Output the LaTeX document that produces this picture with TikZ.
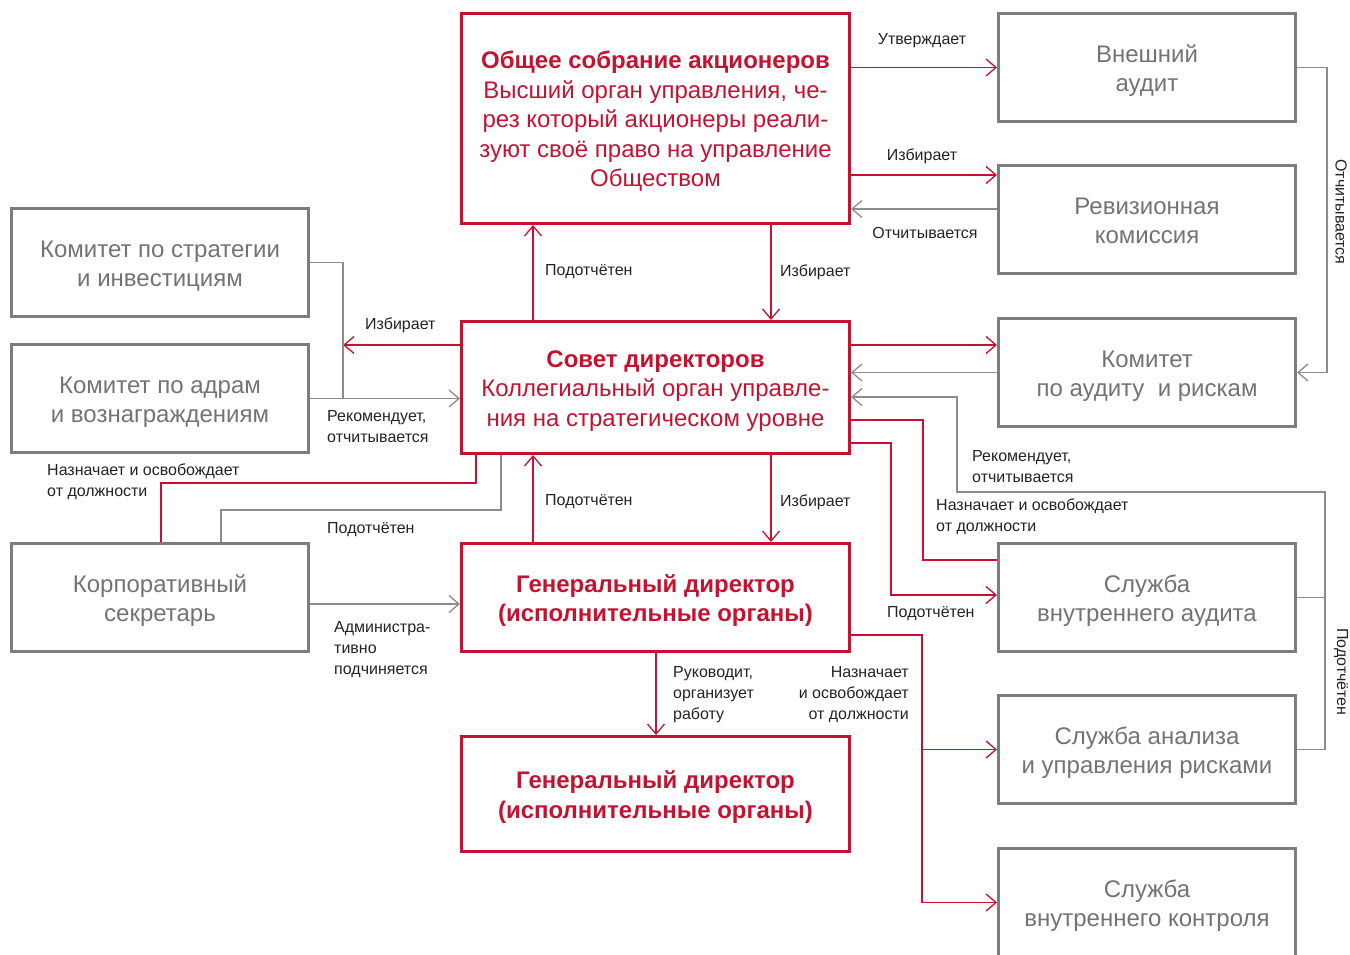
\documentclass[tikz,border=0pt]{standalone}
\usepackage{fontspec}
\setmainfont{Liberation Sans}
\usetikzlibrary{arrows.meta,calc}
\definecolor{rd}{RGB}{196,18,48}
\definecolor{gb}{RGB}{125,125,128}
\definecolor{gt}{RGB}{115,115,118}
\definecolor{lt}{RGB}{35,35,35}
\definecolor{gl}{RGB}{140,140,142}
\newcommand{\bxtxt}[1]{\raisebox{-3.5pt}[\height][\depth]{\begin{tabular}{@{}c@{}}#1\end{tabular}}}
\begin{document}
\begin{tikzpicture}[x=1pt,y=-1pt,
 boxbase/.style={line width=3pt, inner sep=0pt, font=\fontsize{24}{29.5}\selectfont},
 gbox/.style={boxbase, draw=gb, minimum width=297pt, minimum height=108pt, text=gt},
 rbox/.style={boxbase, draw=rd, minimum width=388pt, text=rd},
 rl/.style={draw=rd, line width=1.3pt},
 gline/.style={draw=gl, line width=1.3pt},
 arr/.style={-{Straight Barb[length=10pt,width=17pt,line width=1.3pt]}},
 lbl/.style={text=lt, font=\fontsize{16}{21}\selectfont, inner sep=0pt, align=left},
]
\useasboundingbox (0,0) rectangle (1350,955);
% boxes
\node[rbox, minimum height=210pt] (gsm) at (655.5,118.5) {\bxtxt{\textbf{Общее собрание акционеров}\\Высший орган управления, че-\\рез который акционеры реали-\\зуют своё право на управление\\Обществом}};
\node[rbox, minimum height=132pt] (sd) at (655.5,387.5) {\bxtxt{\textbf{Совет директоров}\\Коллегиальный орган управле-\\ния на стратегическом уровне}};
\node[rbox, minimum height=108pt] (gd1) at (655.5,597.5) {\bxtxt{\textbf{Генеральный директор}\\\textbf{(исполнительные органы)}}};
\node[rbox, minimum height=115pt] (gd2) at (655.5,794) {\bxtxt{\textbf{Генеральный директор}\\\textbf{(исполнительные органы)}}};
\node[gbox] (va) at (1147,67.5) {\bxtxt{Внешний\\аудит}};
\node[gbox] (rk) at (1147,219.5) {\bxtxt{Ревизионная\\комиссия}};
\node[gbox] (ka) at (1147,372.5) {\bxtxt{Комитет\\по аудиту \ и рискам}};
\node[gbox] (sva) at (1147,597.5) {\bxtxt{Служба\\внутреннего аудита}};
\node[gbox] (saur) at (1147,749.5) {\bxtxt{Служба анализа\\и управления рисками}};
\node[gbox] (svk) at (1147,902.5) {\bxtxt{Служба\\внутреннего контроля}};
\node[gbox] (ks) at (160,262.5) {\bxtxt{Комитет по стратегии\\и инвестициям}};
\node[gbox] (kav) at (160,398.5) {\bxtxt{Комитет по адрам\\и вознаграждениям}};
\node[gbox] (ksek) at (160,597.5) {\bxtxt{Корпоративный\\секретарь}};
% connectors top right
\draw[rl,arr] (gsm.east |- va.west) -- (va.west);
\draw[rl,arr] (gsm.east |- 0,175) -- (rk.west |- 0,175);
\draw[gline,arr] (rk.west |- 0,209) -- (gsm.east |- 0,209);
\draw[gline,arr] (va.east) -- (1327,67.5) |- (ka.east);
% GSM - SD
\draw[rl,arr] (sd.north -| 533,0) -- (gsm.south -| 533,0);
\draw[rl,arr] (gsm.south -| 771,0) -- (sd.north -| 771,0);
% left committees
\coordinate (jl) at (343,345);
\draw[rl,arr] (sd.west |- jl) -- (jl);
\draw[gline] (ks.east) -- (343,262.5) -- (343,398.5);
\draw[gline,arr] (kav.east) -- (sd.west |- kav.east);
% audit committee
\draw[rl,arr] (sd.east |- 0,345) -- (ka.west |- 0,345);
\draw[gline,arr] (ka.west) -- (sd.east |- ka.west);
% services reporting
\draw[gline] (sva.east) -- (1325,597.5);
\draw[gline,arr] (saur.east) -- (1325,749.5) -- (1325,492) -- (957,492) -- (957,397) -- (sd.east |- 0,397);
\draw[rl] (sd.east |- 0,420) -- (923,420) -- (923,560) -- (sva.west |- 0,560);
\draw[rl,arr] (sd.east |- 0,443) -- (891,443) -- (891,595) -- (sva.west |- 0,595);
% GD1 to services
\draw[rl,arr] (gd1.east |- 0,635) -- (922,635) -- (922,902.5) -- (svk.west);
\draw[rl,arr] (922,749.5) -- (saur.west);
% SD - GD1
\draw[rl,arr] (sd.south -| 771,0) -- (gd1.north -| 771,0);
\draw[rl,arr] (gd1.north -| 533,0) -- (sd.south -| 533,0);
\draw[rl,arr] (gd1.south -| 656,0) -- (gd2.north -| 656,0);
% secretary
\draw[rl] (sd.south -| 476,0) -- (476,483) -| (ksek.north -| 161,0);
\draw[gline] (sd.south -| 501,0) -- (501,510) -| (ksek.north -| 221,0);
\draw[gline,arr] (ksek.east |- 0,604) -- (gd1.west |- 0,604);
% labels
\node[lbl] (l1) at (922,41) {Утверждает};
\node[lbl] (l2) at (922,156) {Избирает};
\node[lbl] (l3) at (925,233) {Отчитывается};
\node[lbl,anchor=west] (l4) at (545,272) {Подотчётен};
\node[lbl,anchor=west] (l5) at (780,272) {Избирает};
\node[lbl,anchor=west] (l6) at (365,325) {Избирает};
\node[lbl,anchor=west] (l7) at (327,427) {Рекомендует,\\отчитывается};
\node[lbl,anchor=west] (l8) at (47,482) {Назначает и освобождает\\от должности};
\node[lbl,anchor=west] (l9) at (327,530) {Подотчётен};
\node[lbl,anchor=west] (l10) at (545,502) {Подотчётен};
\node[lbl,anchor=west] (l11) at (780,502) {Избирает};
\node[lbl,anchor=west] (l12) at (334,650) {Администра-\\тивно\\подчиняется};
\node[lbl,anchor=west] (l13) at (673,695) {Руководит,\\организует\\работу};
\node[lbl,anchor=east,align=right] (l14) at (909,695) {Назначает\\и освобождает\\от должности};
\node[lbl,anchor=west] (l15) at (972,467) {Рекомендует,\\отчитывается};
\node[lbl,anchor=west] (l16) at (936,517) {Назначает и освобождает\\от должности};
\node[lbl,anchor=west] (l17) at (887,614) {Подотчётен};
\node[lbl,rotate=-90] (l18) at (1341,212) {Отчитывается};
\node[lbl,rotate=-90] (l19) at (1341,672) {Подотчётен};
\end{tikzpicture}
\end{document}
